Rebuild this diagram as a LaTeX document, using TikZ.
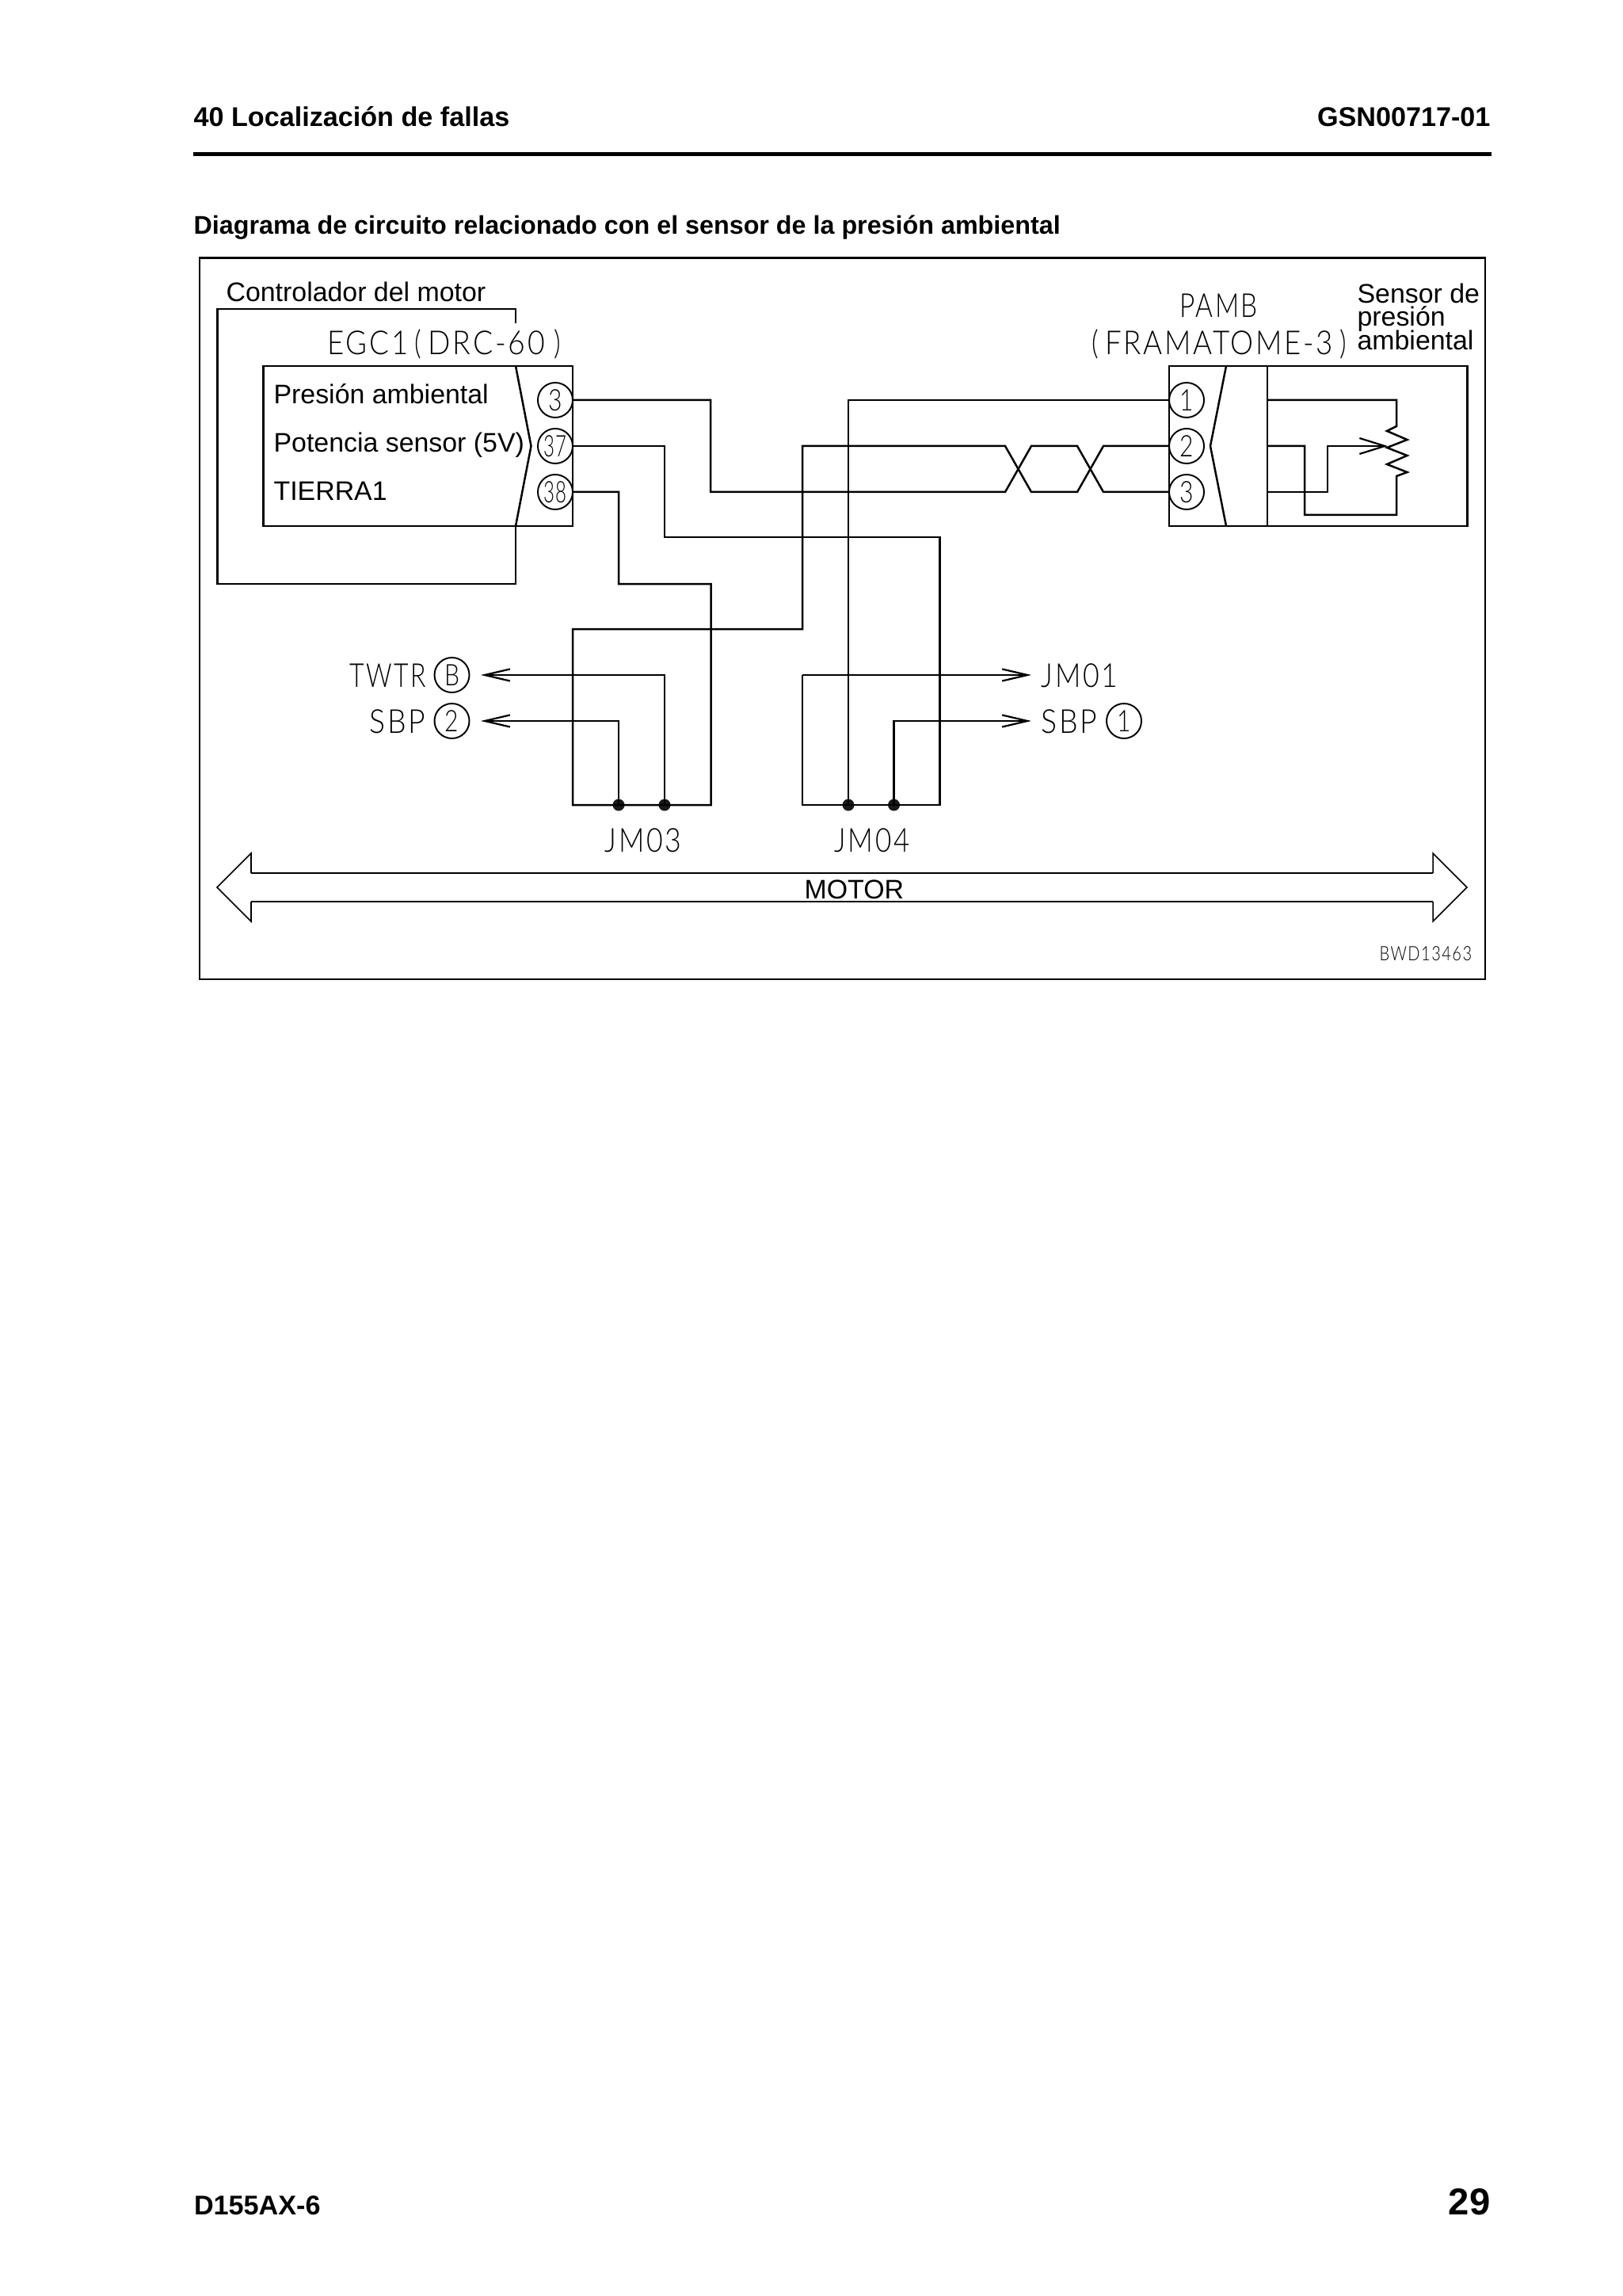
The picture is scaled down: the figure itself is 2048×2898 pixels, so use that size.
\documentclass[tikz,border=0pt]{standalone}
\usepackage{fontspec}
\usetikzlibrary{arrows.meta}
\setmainfont{Liberation Sans}
\newfontfamily\techfont[LetterSpace=6,FakeStretch=0.8]{Lato Light}
\tikzset{
  x=0.36pt,y=-0.36pt,
  wire/.style={line width=0.9pt,line join=miter},
  thin wire/.style={line width=0.55pt},
  barb/.style={-{Straight Barb[length=11.5pt,width=5.4pt,line width=0.8pt]}},
  label/.style={anchor=base west,inner sep=0pt,font=\fontsize{12.2}{14}\selectfont},
  head/.style={inner sep=0pt,font=\fontsize{12.3}{14}\selectfont\bfseries},
  subhead/.style={inner sep=0pt,font=\fontsize{11.62}{14}\selectfont\bfseries},
  tech/.style={inner sep=0pt,anchor=base west,font=\fontsize{15}{18}\selectfont\techfont},
  pin/.style={circle,draw,line width=0.7pt,minimum size=15.84pt,inner sep=0pt,font=\fontsize{13.5}{15}\selectfont\techfont},
  joint/.style={circle,fill=black!90,minimum size=5.4pt,inner sep=0pt},
}
\begin{document}
\begin{tikzpicture}
\useasboundingbox (0,0) rectangle (2048,2898);
\fill[white] (0,0) rectangle (2048,2898);
% header
\node[head,anchor=base west] (hl) at (244,160) {40 Localización de fallas};
\node[head,anchor=base east] (hr) at (1882,160) {GSN00717-01};
\coordinate (rl) at (244,195); \coordinate (rr) at (1883,195);
\draw[line width=1.8pt] (rl) -- (rr);
\node[subhead,anchor=base west] (title) at (244,296) {Diagrama de circuito relacionado con el sensor de la presión ambiental};
% frame
\coordinate (fa) at (252,325.5); \coordinate (fb) at (1875,1236);
\draw[line width=0.9pt] (fa) rectangle (fb);
% controller
\node[label] (ctl) at (285,380.5) {Controlador del motor};
\coordinate (ca) at (651,408); \coordinate (cb) at (651,390); \coordinate (cc) at (274.5,390);
\coordinate (cd) at (274.5,737); \coordinate (ce) at (651,737); \coordinate (cf) at (651,664);
\draw[wire] (ca) -- (cb) -- (cc) -- (cd) -- (ce) -- (cf);
\node[tech] (egc) at (413,448) {\scalebox{1.1}[1]{EGC1}\hspace{3pt}(\hspace{3pt}\scalebox{1.12}[1]{DRC-60}\hspace{4pt})};
\coordinate (ea) at (332.5,462); \coordinate (eb) at (723,664);
\draw[wire] (ea) rectangle (eb);
\coordinate (eh1) at (651,462); \coordinate (eh2) at (670.5,563);
\draw[wire] (eh1) -- (eh2) -- (cf);
\node[label] (l1) at (345,510) {Presión ambiental};
\node[label] (l2) at (345,571) {Potencia sensor (5V)};
\node[label] (l3) at (345,632) {TIERRA1};
\node[pin] (e3) at (701,505) {3};
\node[pin] (e37) at (701,563) {\scalebox{0.8}[1]{37}};
\node[pin] (e38) at (701,621) {\scalebox{0.8}[1]{38}};
% PAMB
\node[tech] (pamb) at (1489,401) {PAMB};
\node[tech] (fram) at (1378,448) {(\hspace{3pt}\scalebox{1.1}[1]{FRAMATOME-3}\hspace{3pt})};
\node[label] (s1) at (1713,383) {Sensor de};
\node[label] (s2) at (1713,412) {presión};
\node[label] (s3) at (1713,442) {ambiental};
\coordinate (pa) at (1476,462); \coordinate (pb) at (1852.5,664);
\draw[wire] (pa) rectangle (pb);
\coordinate (pd1) at (1600,462); \coordinate (pd2) at (1600,664);
\draw[wire] (pd1) -- (pd2);
\coordinate (ph1) at (1548,462); \coordinate (ph2) at (1528,563); \coordinate (ph3) at (1548,664);
\draw[wire] (ph1) -- (ph2) -- (ph3);
\node[pin] (p1) at (1498,505) {1};
\node[pin] (p2) at (1498,563) {2};
\node[pin] (p3) at (1498,621) {3};
% sensor internals
\coordinate (r1) at (1600,505); \coordinate (r2) at (1763,505);
\coordinate (r3) at (1763,538); \coordinate (r4) at (1751,544); \coordinate (r5) at (1776.5,555);
\coordinate (r6) at (1751,565); \coordinate (r7) at (1776.5,575); \coordinate (r8) at (1751,586);
\coordinate (r9) at (1776.5,596); \coordinate (r10) at (1763,601); \coordinate (r11) at (1763,650);
\coordinate (r12) at (1647,650); \coordinate (r13) at (1647,563); \coordinate (r14) at (1600,563);
\draw[wire] (r1) -- (r2) -- (r3) -- (r4) -- (r5) -- (r6) -- (r7) -- (r8) -- (r9) -- (r10) -- (r11) -- (r12) -- (r13) -- (r14);
\coordinate (w1) at (1600,621); \coordinate (w2) at (1676,621); \coordinate (w3) at (1676,563); \coordinate (w4) at (1752,563);
\draw[wire,-{Straight Barb[length=11.5pt,width=7.2pt,line width=0.8pt]}] (w1) -- (w2) -- (w3) -- (w4);
% wires
\coordinate (tl1) at (1269,563); \coordinate (tl2) at (1302,621); \coordinate (tl3) at (1360,621); \coordinate (tl4) at (1393,563);
\coordinate (bl1) at (1269,621); \coordinate (bl2) at (1302,563); \coordinate (bl3) at (1360,563); \coordinate (bl4) at (1393,621);
\coordinate (v3) at (897,505); \coordinate (v3b) at (897,621);
\draw[wire] (e3.east) -- (v3) -- (v3b) -- (bl1) -- (bl2) -- (bl3) -- (bl4) -- (p3.west);
\coordinate (v2a) at (1013,794); \coordinate (v2b) at (1013,563);
\coordinate (j3a) at (723,794); \coordinate (j3b) at (723,1016); \coordinate (j3c) at (897.5,1016);
\coordinate (v38a) at (781,621); \coordinate (v38b) at (781,737); \coordinate (v38c) at (897.5,737);
\coordinate (v37a) at (839,563); \coordinate (v37b) at (839,678); \coordinate (v37c) at (1186.5,678); \coordinate (j4r) at (1186.5,1016);
\coordinate (j4l) at (1013,1016); \coordinate (j4t) at (1013,852);
\node[joint] (d1) at (781,1016) {};
\node[joint] (d2) at (839,1016) {};
\node[joint] (d3) at (1071,1016) {};
\node[joint] (d4) at (1128.5,1016) {};
\draw[wire] (p2.west) -- (tl4) -- (tl3) -- (tl2) -- (tl1) -- (v2b) -- (v2a) -- (j3a) -- (j3b) -- (j3c) -- (v38c) -- (v38b) -- (v38a) -- (e38.east);
\draw[wire] (e37.east) -- (v37a) -- (v37b) -- (v37c) -- (j4r) -- (j4l) -- (j4t);
\coordinate (tp1) at (1071,505);
\draw[wire] (p1.west) -- (tp1) -- (d3.center);
% arrows
\coordinate (at) at (607,852); \coordinate (as) at (607,910);
\coordinate (bt) at (1302,852); \coordinate (bs) at (1302,910);
\coordinate (k1) at (781,910); \coordinate (k2) at (839,852); \coordinate (k3) at (1128.5,910);
\draw[wire,barb] (d1.center) -- (k1) -- (as);
\draw[wire,barb] (d2.center) -- (k2) -- (at);
\draw[wire,barb] (j4t) -- (bt);
\draw[wire,barb] (d4.center) -- (k3) -- (bs);
% arrow labels
\node[tech] (twtr) at (441,867) {\scalebox{0.96}[1]{TWTR}};
\node[tech] (sbpl) at (466,925) {\scalebox{1.12}[1]{SBP}};
\node[pin] (cb1) at (570.5,852) {B};
\node[pin] (cb2) at (570.5,910) {2};
\node[tech] (jm01) at (1314,867) {\scalebox{1.07}[1]{JM01}};
\node[tech] (sbpr) at (1314,925) {\scalebox{1.12}[1]{SBP}};
\node[pin] (cb3) at (1419,910) {1};
\node[tech] (jm03) at (763,1075) {\scalebox{1.07}[1]{JM03}};
\node[tech] (jm04) at (1053,1075) {\scalebox{1.05}[1]{JM04}};
% motor band
\coordinate (m1) at (317,1102); \coordinate (m2) at (317,1077); \coordinate (m3) at (274,1120);
\coordinate (m4) at (317,1163); \coordinate (m5) at (317,1138); \coordinate (m6) at (1809,1138);
\coordinate (m7) at (1809,1163); \coordinate (m8) at (1852,1120); \coordinate (m9) at (1809,1077); \coordinate (m10) at (1809,1102);
\draw[thin wire] (m1) -- (m2) -- (m3) -- (m4) -- (m5);
\draw[thin wire] (m6) -- (m7) -- (m8) -- (m9) -- (m10);
\draw[wire] (m1) -- (m10);
\draw[wire] (m5) -- (m6);
\node[label] (motor) at (1015,1134) {MOTOR};
\node[tech,font=\fontsize{9}{11}\selectfont\techfont] (bwd) at (1741,1212) {BWD13463};
% footer
\node[head,anchor=base west] (fl) at (244.5,2795) {D155AX-6};
\node[inner sep=0pt,anchor=base east,font=\fontsize{17}{20}\selectfont\bfseries] (fr) at (1882,2795) {29};
\end{tikzpicture}
\end{document}
